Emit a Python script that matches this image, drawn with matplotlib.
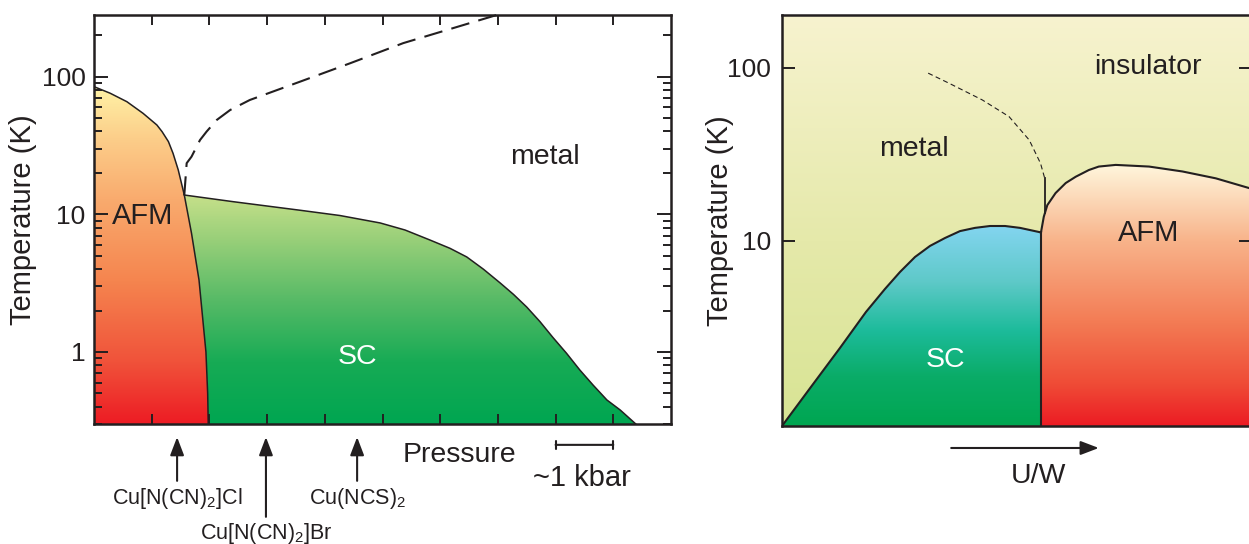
import numpy as np
import matplotlib
matplotlib.use("Agg")
import matplotlib.pyplot as plt
from matplotlib.colors import LinearSegmentedColormap
from matplotlib.patches import Polygon
from matplotlib.ticker import FixedLocator, LogLocator, NullFormatter, NullLocator

plt.rcParams["font.family"] = ["Liberation Sans", "DejaVu Sans"]
plt.rcParams["mathtext.fontset"] = "custom"
plt.rcParams["mathtext.rm"] = "Liberation Sans"
plt.rcParams["mathtext.default"] = "regular"

INK = "#231f20"

# ---- left panel: pressure phase diagram (x in kbar, T in K) ----
afm_p = [0.0, 0.28, 0.57, 0.85, 1.09, 1.18, 1.29, 1.37, 1.46, 1.565, 1.69, 1.82, 1.94, 1.97, 1.98]
afm_t = [84.5, 75.7, 65.7, 54.1, 44.5, 39.8, 33.7, 27.7, 21.0, 13.8, 7.28, 3.33, 1.0, 0.5, 0.3]

sc_p = [1.565, 2.41, 3.57, 4.26, 4.96, 5.39, 5.82, 6.17, 6.46, 6.75, 7.04, 7.27, 7.50, 7.73,
        7.95, 8.19, 8.42, 8.65, 8.89, 9.12, 9.39]
sc_t = [13.8, 12.35, 10.7, 9.80, 8.65, 7.69, 6.51, 5.66, 4.90, 3.99, 3.17, 2.62, 2.12, 1.66,
        1.28, 0.978, 0.74, 0.575, 0.448, 0.379, 0.30]

mi_p = [1.565, 1.606, 1.69, 1.837, 1.95, 2.127, 2.36, 2.70, 3.57, 4.44, 5.36, 6.98]
mi_t = [13.8, 23.5, 26.2, 34.6, 39.8, 48.4, 57.2, 67.6, 91.8, 125, 175, 280]

salt_names = ["Cu[N(CN)$_2$]Cl", "Cu[N(CN)$_2$]Br", "Cu(NCS)$_2$"]
salt_p = [1.44, 2.98, 4.56]

# ---- right panel: generic U/W diagram ----
sc2_u = [0.0, 0.0596, 0.1234, 0.1787, 0.2191, 0.2511, 0.2830, 0.3149, 0.3468, 0.3787,
         0.4106, 0.4426, 0.4745, 0.5064, 0.551]
sc2_t = [0.853, 1.41, 2.41, 3.89, 5.28, 6.62, 8.08, 9.36, 10.4, 11.4,
         11.9, 12.2, 12.2, 11.9, 11.2]

afm2_u = [0.551, 0.557, 0.5645, 0.582, 0.6036, 0.625, 0.653, 0.674, 0.710, 0.781,
          0.852, 0.923, 0.994, 1.02]
afm2_t = [11.2, 13.8, 16.1, 18.9, 21.6, 23.5, 25.7, 26.9, 27.5, 26.9,
          25.2, 23.0, 20.2, 19.5]

cross_u = [0.311, 0.355, 0.426, 0.483, 0.526, 0.550, 0.559]
cross_t = [93.2, 81.6, 65.3, 52.3, 38.3, 28.1, 23.0]
jump_u = [0.559, 0.559]
jump_t = [23.0, 14.6]


def grad_fill(ax, verts, stops, z=1):
    cmap = LinearSegmentedColormap.from_list("g", stops)
    im = ax.imshow(np.linspace(0, 1, 256).reshape(-1, 1), cmap=cmap, origin="lower",
                   extent=(0, 1, 0, 1), transform=ax.transAxes, aspect="auto",
                   interpolation="bilinear", zorder=z)
    if verts is not None:
        poly = Polygon(verts, closed=True, transform=ax.transData,
                       facecolor="none", edgecolor="none")
        ax.add_patch(poly)
        im.set_clip_path(poly)
    return im


fig = plt.figure(figsize=(12.49, 5.44), dpi=100)
W, H = 1249, 544
ax1 = fig.add_axes([94 / W, (H - 424) / H, 577 / W, 409 / H])
ax2 = fig.add_axes([782 / W, (H - 426) / H, 470 / W, 411 / H])

arrow_style = "-|>,head_length=1.1,head_width=0.42"

# ----------------- left -----------------
ax1.set_yscale("log")
ax1.set_xlim(0, 10)
ax1.set_ylim(0.3, 280)

afm_poly = list(zip(afm_p, afm_t)) + [(afm_p[-1], 0.1), (-0.2, 0.1), (-0.2, afm_t[0])]
grad_fill(ax1, afm_poly, [(0.0, "#ed1c24"), (0.15, "#f0523a"), (0.35, "#f5854f"),
                          (0.55, "#f9ab6e"), (0.7, "#fcce8a"), (0.824, "#fff2a6"), (1.0, "#fff6b8")])

k = afm_t.index(13.8)
sc_poly = list(zip(sc_p, sc_t)) + [(sc_p[-1], 0.1), (afm_p[-1], 0.1)] + \
    list(zip(afm_p[k:], afm_t[k:]))[::-1]
grad_fill(ax1, sc_poly, [(0.0, "#00a651"), (0.15, "#17ab55"), (0.3, "#56ba66"),
                         (0.45, "#98cf79"), (0.56, "#c6e08a"), (1.0, "#d8ea9a")])

ax1.plot(afm_p, afm_t, color=INK, lw=1.1, zorder=3)
ax1.plot(sc_p, sc_t, color=INK, lw=1.1, zorder=3)
ax1.plot(mi_p, mi_t, color=INK, lw=1.5, dashes=(9, 4.5), zorder=3, clip_on=False)

ax1.text(0.85, 9.7, "AFM", fontsize=21, ha="center", va="center", color=INK, zorder=4)
ax1.text(4.56, 0.92, "SC", fontsize=20.5, ha="center", va="center", color="white", zorder=4)
ax1.text(7.82, 26, "metal", fontsize=20.5, ha="center", va="center", color=INK, zorder=4)

ax1.yaxis.set_major_locator(FixedLocator([1, 10, 100]))
ax1.set_yticklabels(["1", "10", "100"])
ax1.yaxis.set_minor_locator(LogLocator(base=10, subs=np.arange(2, 10)))
ax1.yaxis.set_minor_formatter(NullFormatter())
ax1.xaxis.set_major_locator(FixedLocator(np.arange(1, 10)))
ax1.tick_params(axis="x", which="major", direction="in", top=True, bottom=True,
                labelbottom=False, length=7, width=1.4, color=INK)
ax1.tick_params(axis="y", which="major", direction="in", left=True, right=True,
                length=10, width=1.4, color=INK, labelsize=19, labelcolor=INK, pad=6)
ax1.tick_params(axis="y", which="minor", direction="in", left=True, right=True,
                length=5.5, width=1.4, color=INK)
ax1.set_ylabel("Temperature (K)", fontsize=21, color=INK)
ax1.yaxis.set_label_coords(-0.098, 0.5)
for s in ax1.spines.values():
    s.set_linewidth(1.8)
    s.set_color(INK)
    s.set_zorder(5)

# compound arrows below the pressure axis
tails = [-0.139, -0.227, -0.139]
label_y = [-0.181, -0.267, -0.181]
for name, p, ty, ly in zip(salt_names, salt_p, tails, label_y):
    ax1.annotate("", xy=(p, -0.032), xytext=(p, ty),
                 xycoords=("data", "axes fraction"), textcoords=("data", "axes fraction"),
                 arrowprops=dict(arrowstyle=arrow_style, color=INK, lw=1.5,
                                 shrinkA=0, shrinkB=0))
    ax1.annotate(name, xy=(p, ly), xycoords=("data", "axes fraction"),
                 ha="center", va="center", fontsize=15.5, color=INK, annotation_clip=False)

ax1.annotate("Pressure", xy=(6.34, -0.076), xycoords=("data", "axes fraction"),
             ha="center", va="center", fontsize=20.5, color=INK, annotation_clip=False)
ax1.annotate("", xy=(8.0, -0.051), xytext=(9.0, -0.051),
             xycoords=("data", "axes fraction"), textcoords=("data", "axes fraction"),
             arrowprops=dict(arrowstyle="|-|,widthA=0.3,widthB=0.3", color=INK, lw=1.5,
                             shrinkA=0, shrinkB=0))
ax1.annotate("~1 kbar", xy=(8.46, -0.132), xycoords=("data", "axes fraction"),
             ha="center", va="center", fontsize=21, color=INK, annotation_clip=False)

# ----------------- right -----------------
ax2.set_yscale("log")
ax2.set_xlim(0, 1)
ax2.set_ylim(0.853, 202)

grad_fill(ax2, None, [(0.0, "#d8e494"), (0.45, "#e5e9aa"), (1.0, "#f7f3cf")], z=0)

sc2_poly = list(zip(sc2_u, sc2_t)) + [(sc2_u[-1], 0.5), (-0.1, 0.5), (-0.1, sc2_t[0])]
grad_fill(ax2, sc2_poly, [(0.0, "#00a651"), (0.12, "#0aac68"), (0.23, "#1cbb9a"),
                          (0.35, "#5ec9c8"), (0.49, "#84d5f1"), (1.0, "#90dbf5")])

afm2_poly = list(zip(afm2_u, afm2_t)) + [(afm2_u[-1], 0.5), (afm2_u[0], 0.5)]
grad_fill(ax2, afm2_poly, [(0.0, "#ec1c24"), (0.1, "#ef4b36"), (0.25, "#f37b54"),
                           (0.45, "#f8b38a"), (0.635, "#fff6dc"), (1.0, "#fffbea")])

ax2.plot(sc2_u, sc2_t, color=INK, lw=1.5, zorder=3)
ax2.plot([sc2_u[-1], sc2_u[-1]], [0.5, sc2_t[-1]], color=INK, lw=1.5, zorder=3)
ax2.plot(afm2_u, afm2_t, color=INK, lw=1.5, zorder=3)
ax2.plot(jump_u, jump_t, color=INK, lw=1.3, zorder=3)
ax2.plot(cross_u, cross_t, color=INK, lw=0.8, dashes=(4.5, 3), zorder=3)

ax2.text(0.281, 34, "metal", fontsize=20.5, ha="center", va="center", color=INK, zorder=4)
ax2.text(0.779, 101, "insulator", fontsize=20.5, ha="center", va="center", color=INK, zorder=4)
ax2.text(0.781, 11.1, "AFM", fontsize=21, ha="center", va="center", color=INK, zorder=4)
ax2.text(0.347, 2.05, "SC", fontsize=20.5, ha="center", va="center", color="white", zorder=4)

ax2.yaxis.set_major_locator(FixedLocator([10, 100]))
ax2.set_yticklabels(["10", "100"])
ax2.yaxis.set_minor_locator(NullLocator())
ax2.xaxis.set_major_locator(NullLocator())
ax2.tick_params(axis="y", which="major", direction="in", left=True, right=True,
                length=9.5, width=1.4, color=INK, labelsize=19, labelcolor=INK, pad=8)
ax2.set_ylabel("Temperature (K)", fontsize=21, color=INK)
ax2.yaxis.set_label_coords(-0.102, 0.5)
for s in ax2.spines.values():
    s.set_linewidth(1.8)
    s.set_color(INK)
    s.set_zorder(5)

ax2.annotate("", xy=(0.674, -0.0535), xytext=(0.360, -0.0535),
             xycoords="axes fraction", textcoords="axes fraction",
             arrowprops=dict(arrowstyle=arrow_style, color=INK, lw=1.5, shrinkA=0, shrinkB=0))
ax2.annotate("U/W", xy=(0.545, -0.122), xycoords="axes fraction",
             ha="center", va="center", fontsize=20.5, color=INK, annotation_clip=False)

fig.savefig("out.png", dpi=100)
